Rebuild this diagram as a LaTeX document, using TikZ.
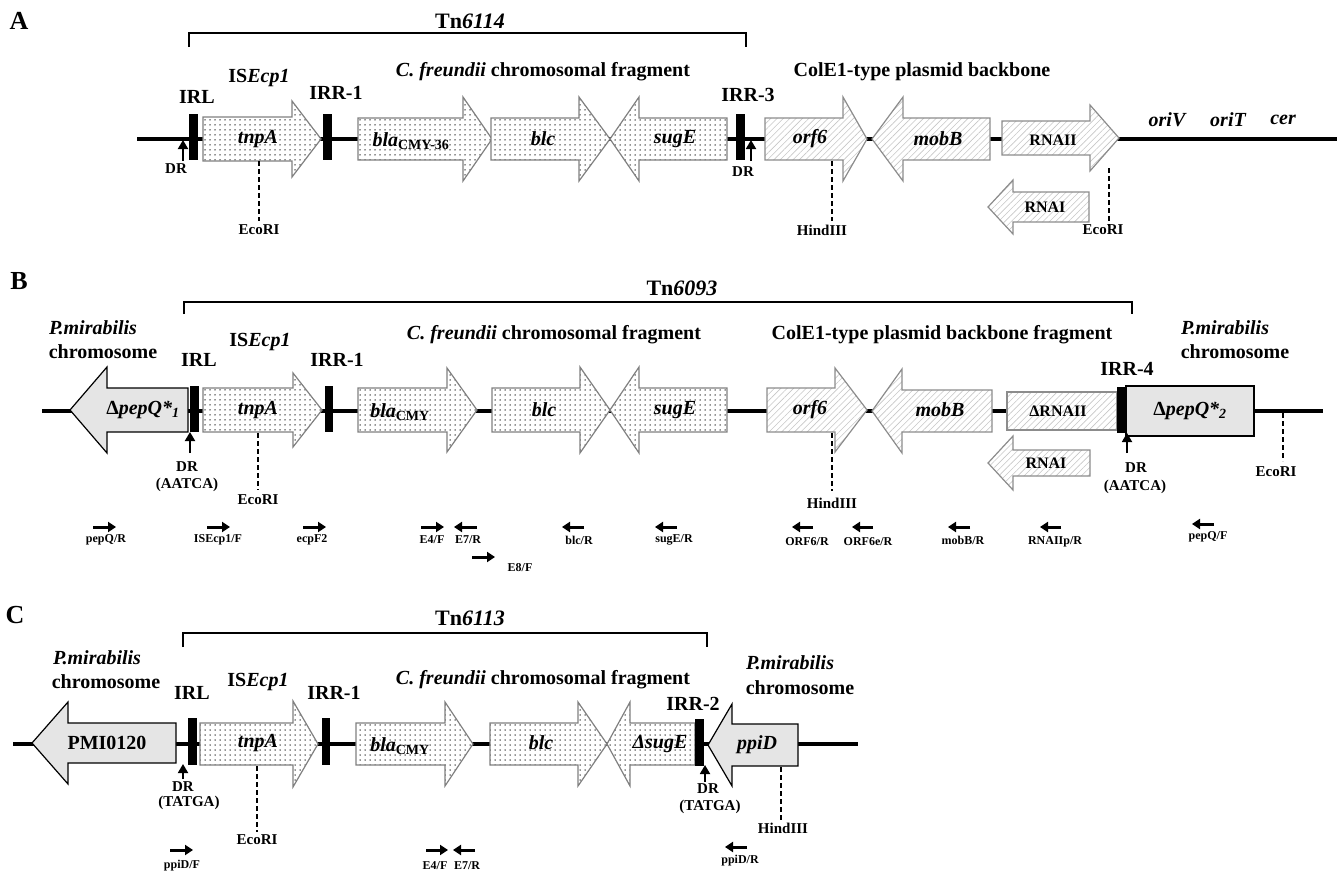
\documentclass[tikz,border=0pt]{standalone}
\usepackage{fontspec}
\setmainfont{Liberation Serif}
\usetikzlibrary{arrows.meta,patterns.meta}
\newcommand\gene[7]{\draw[#1] (#2,{#5-#6}) -- (#3,{#5-#6}) -- (#3,{#5-#7}) -- (#4,#5) -- (#3,{#5+#7}) -- (#3,{#5+#6}) -- (#2,{#5+#6}) -- cycle;}
\newcommand\irbar[4]{\fill (#1,#3) rectangle (#2,#4);}
\newcommand\primer[3]{\draw[primarr] (#1,#3) -- (#2,#3);}
\begin{document}
\begin{tikzpicture}[x=1pt,y=-1pt,
  every node/.style={inner sep=0pt},
  panel/.style={font=\fontsize{26}{30}\selectfont\bfseries},
  tn/.style={font=\fontsize{22}{26}\selectfont\bfseries},
  lab/.style={font=\fontsize{20}{23}\selectfont\bfseries},
  gl/.style={font=\fontsize{20}{23}\selectfont\bfseries\itshape},
  rl/.style={font=\fontsize{16}{19}\selectfont\bfseries},
  sm/.style={font=\fontsize{15}{17}\selectfont\bfseries},
  tiny/.style={font=\fontsize{12}{14}\selectfont\bfseries},
  backbone/.style={line width=4pt},
  bracket/.style={line width=1.3pt},
  dotted gene/.style={draw=black!50, line width=1.2pt, preaction={fill=white},
     pattern={Dots[distance=5pt,radius=0.75pt]}, pattern color=black!85},
  hatched gene/.style={draw=black!45, line width=1.2pt, preaction={fill=white},
     pattern={Lines[angle=45,distance=4.5pt,line width=0.6pt]}, pattern color=black!22},
  grey gene/.style={draw=black, line width=1.2pt, fill=black!10},
  site/.style={line width=1.5pt, dash pattern=on 5pt off 3pt},
  drarr/.style={line width=1.8pt, -{Triangle[length=9pt,width=10pt]}},
  primarr/.style={line width=3pt, -{Triangle[length=8pt,width=10pt]}}]
\useasboundingbox (0,0) rectangle (1343,870);

%%%%%%%%%%%%%%%% Panel A
\node[panel] (pA) at (19,21) {A};
\draw[bracket] (189,47) -- (189,33) -- (746,33) -- (746,47);
\node[tn] (tnA) at (470,21) {Tn\textit{6114}};
\draw[backbone] (137,139) -- (1337,139);
\gene{dotted gene}{203}{292}{321}{139}{22}{38}
\gene{dotted gene}{358}{463}{492}{139}{21}{42}
\gene{dotted gene}{491}{579}{610}{139}{21}{42}
\gene{dotted gene}{727}{639}{610}{139}{21}{42}
\gene{hatched gene}{765}{843}{867}{139}{21}{42}
\gene{hatched gene}{990}{903}{872}{139}{21}{42}
\gene{hatched gene}{1002}{1090}{1119}{138}{17}{33}
\gene{hatched gene}{1089}{1013}{988}{207}{15}{27}
\irbar{189}{198}{114}{160}
\irbar{323}{332}{114}{160}
\irbar{736}{745}{114}{160}
\draw[drarr] (183,161) -- (183,140);
\draw[drarr] (751,161) -- (751,140);
\draw[site] (259,161) -- (259,221);
\draw[site] (832,161) -- (832,221);
\draw[site] (1109,168) -- (1109,226);
\node[lab] (isA) at (259,78) {IS\textit{Ecp1}};
\node[lab] (irlA) at (197,97) {IRL};
\node[lab] (irr1A) at (336,93) {IRR-1};
\node[lab] (cfA) at (543,72) {\textit{C. freundii} chromosomal fragment};
\node[lab] (irr3A) at (748,95) {IRR-3};
\node[lab] (colA) at (922,72) {ColE1-type plasmid backbone};
\node[gl] (tnpAA) at (258,139) {tnpA};
\node[gl] (blaA) at (411,141) {bla\textsubscript{\upshape CMY-36}};
\node[gl] (blcA) at (543,139) {blc};
\node[gl] (sugEA) at (675,139) {sugE};
\node[gl] (orf6A) at (810,139) {orf6};
\node[gl] (mobBA) at (938,139) {mobB};
\node[rl] (rnaiiA) at (1053,140) {RNAII};
\node[rl] (rnaiA) at (1045,207) {RNAI};
\node[gl] (oriVA) at (1167,120) {oriV};
\node[gl] (oriTA) at (1228,120) {oriT};
\node[gl] (cerA) at (1283,120) {cer};
\node[sm] (dr1A) at (176,169) {DR};
\node[sm] (dr2A) at (743,172) {DR};
\node[sm] (eco1A) at (259,230) {EcoRI};
\node[sm] (hindA) at (822,230) {HindIII};
\node[sm] (eco2A) at (1103,230) {EcoRI};

%%%%%%%%%%%%%%%% Panel B
\node[panel] (pB) at (19,281) {B};
\draw[bracket] (184,314) -- (184,302) -- (1132,302) -- (1132,314);
\node[tn] (tnB) at (682,288) {Tn\textit{6093}};
\draw[backbone] (42,411) -- (1323,411);
\gene{grey gene}{188}{107}{70}{410}{22}{43}
\gene{dotted gene}{203}{293}{322}{410}{22}{37}
\gene{dotted gene}{358}{447}{477}{410}{22}{42}
\gene{dotted gene}{492}{580}{610}{410}{22}{43}
\gene{dotted gene}{727}{639}{610}{410}{22}{43}
\gene{hatched gene}{767}{835}{867}{410}{22}{42}
\gene{hatched gene}{992}{902}{872}{411}{21}{42}
\draw[hatched gene] (1007,392) rectangle (1117,430);
\draw[grey gene] (1126,386) rectangle (1254,436);
\gene{hatched gene}{1090}{1013}{988}{463}{13}{27}
\irbar{190}{199}{386}{432}
\irbar{325}{333}{386}{432}
\irbar{1117}{1126}{387}{433}
\draw[drarr] (190,453) -- (190,432);
\draw[drarr] (1127,453) -- (1127,433);
\draw[site] (258,433) -- (258,490);
\draw[site] (832,433) -- (832,491);
\draw[site] (1283,413) -- (1283,461);
\node[lab] (pm1B) at (93,328) {\textit{P.mirabilis}};
\node[lab] (ch1B) at (103,352) {chromosome};
\node[lab] (isB) at (260,342) {IS\textit{Ecp1}};
\node[lab] (irlB) at (199,360) {IRL};
\node[lab] (irr1B) at (337,360) {IRR-1};
\node[lab] (cfB) at (554,335) {\textit{C. freundii} chromosomal fragment};
\node[lab] (colB) at (942,335) {ColE1-type plasmid backbone fragment};
\node[lab] (pm2B) at (1225,328) {\textit{P.mirabilis}};
\node[lab] (ch2B) at (1235,352) {chromosome};
\node[lab] (irr4B) at (1127,369) {IRR-4};
\node[lab] (pq1B) at (143,410) {Δ\textit{pepQ*\textsubscript{1}}};
\node[gl] (tnpAB) at (258,410) {tnpA};
\node[gl] (blaB) at (400,412) {bla\textsubscript{\upshape CMY}};
\node[gl] (blcB) at (544,410) {blc};
\node[gl] (sugEB) at (675,410) {sugE};
\node[gl] (orf6B) at (810,410) {orf6};
\node[gl] (mobBB) at (940,410) {mobB};
\node[rl] (rnaiiB) at (1058,411) {ΔRNAII};
\node[rl] (rnaiB) at (1046,463) {RNAI};
\node[lab] (pq2B) at (1190,411) {Δ\textit{pepQ*\textsubscript{2}}};
\node[sm] (dr1B) at (187,467) {DR};
\node[sm] (aa1B) at (187,485) {(AATCA)};
\node[sm] (dr2B) at (1136,468) {DR};
\node[sm] (aa2B) at (1135,487) {(AATCA)};
\node[sm] (eco1B) at (258,500) {EcoRI};
\node[sm] (hindB) at (832,503) {HindIII};
\node[sm] (eco2B) at (1276,472) {EcoRI};
% primers
\primer{93}{116}{527}   \node[tiny] (p1) at (106,540) {pepQ/R};
\primer{207}{230}{527}  \node[tiny] (p2) at (218,540) {ISEcp1/F};
\primer{303}{326}{527}  \node[tiny] (p3) at (312,540) {ecpF2};
\primer{421}{444}{527}  \node[tiny] (p4) at (432,540) {E4/F};
\primer{477}{454}{527}  \node[tiny] (p5) at (468,540) {E7/R};
\primer{472}{495}{557}  \node[tiny] (p6) at (520,568) {E8/F};
\primer{584}{562}{527}  \node[tiny] (p7) at (579,540) {blc/R};
\primer{677}{655}{527}  \node[tiny] (p8) at (674,540) {sugE/R};
\primer{813}{792}{527}  \node[tiny] (p9) at (807,542) {ORF6/R};
\primer{873}{852}{527}  \node[tiny] (p10) at (868,542) {ORF6e/R};
\primer{970}{948}{527}  \node[tiny] (p11) at (963,540) {mobB/R};
\primer{1061}{1040}{527} \node[tiny] (p12) at (1055,542) {RNAIIp/R};
\primer{1214}{1192}{524} \node[tiny] (p13) at (1208,537) {pepQ/F};

%%%%%%%%%%%%%%%% Panel C
\node[panel] (pC) at (15,615) {C};
\draw[bracket] (183,647) -- (183,633) -- (707,633) -- (707,647);
\node[tn] (tnC) at (470,618) {Tn\textit{6113}};
\draw[backbone] (13,744) -- (858,744);
\gene{grey gene}{176}{68}{32}{743}{20}{41}
\gene{dotted gene}{200}{293}{318}{744}{21}{43}
\gene{dotted gene}{356}{445}{473}{744}{21}{42}
\gene{dotted gene}{490}{578}{607}{744}{21}{42}
\gene{dotted gene}{695}{630}{607}{744}{21}{42}
\gene{grey gene}{798}{732}{708}{745}{21}{41}
\irbar{188}{197}{718}{765}
\irbar{322}{330}{718}{765}
\irbar{695}{704}{719}{766}
\draw[drarr] (183,779) -- (183,764);
\draw[drarr] (705,782) -- (705,765);
\draw[site] (257,766) -- (257,832);
\draw[site] (781,767) -- (781,820);
\node[lab] (pm1C) at (97,658) {\textit{P.mirabilis}};
\node[lab] (ch1C) at (106,682) {chromosome};
\node[lab] (irlC) at (192,693) {IRL};
\node[lab] (isC) at (258,682) {IS\textit{Ecp1}};
\node[lab] (irr1C) at (334,693) {IRR-1};
\node[lab] (cfC) at (543,680) {\textit{C. freundii} chromosomal fragment};
\node[lab] (irr2C) at (693,704) {IRR-2};
\node[lab] (pm2C) at (790,663) {\textit{P.mirabilis}};
\node[lab] (ch2C) at (800,688) {chromosome};
\node[lab] (pmiC) at (107,743) {PMI0120};
\node[gl] (tnpAC) at (258,743) {tnpA};
\node[gl] (blaC) at (400,746) {bla\textsubscript{\upshape CMY}};
\node[gl] (blcC) at (541,743) {blc};
\node[gl] (sugEC) at (660,744) {ΔsugE};
\node[gl] (ppiDC) at (757,745) {ppiD};
\node[sm] (dr1C) at (183,787) {DR};
\node[sm] (tt1C) at (189,803) {(TATGA)};
\node[sm] (dr2C) at (708,789) {DR};
\node[sm] (tt2C) at (710,807) {(TATGA)};
\node[sm] (ecoC) at (257,840) {EcoRI};
\node[sm] (hindC) at (783,828) {HindIII};
\primer{170}{193}{850}  \node[tiny] (q1) at (182,866) {ppiD/F};
\primer{426}{448}{850}  \node[tiny] (q2) at (435,866) {E4/F};
\primer{475}{453}{850}  \node[tiny] (q3) at (467,866) {E7/R};
\primer{747}{725}{847}  \node[tiny] (q4) at (740,861) {ppiD/R};
\end{tikzpicture}
\end{document}
